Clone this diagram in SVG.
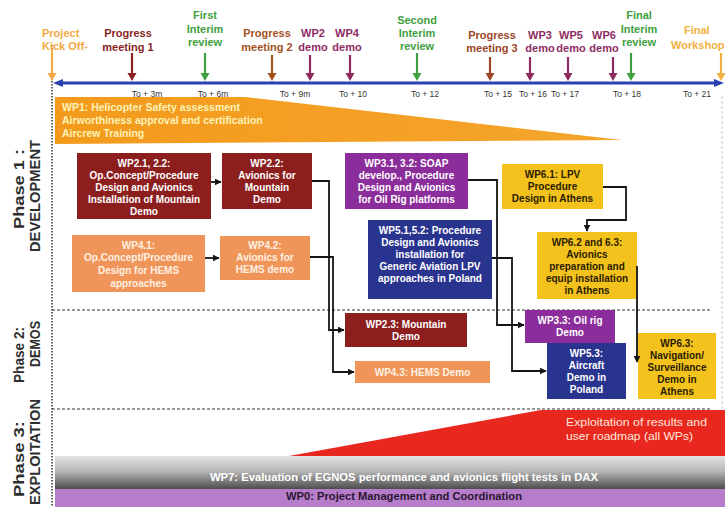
<svg xmlns="http://www.w3.org/2000/svg" width="725" height="507" viewBox="0 0 725 507">
  <defs>
    <style>
      text { font-family: "Liberation Sans", Arial, sans-serif; }
      .ms { font-size: 11px; font-weight: bold; text-anchor: middle; }
      .tick { font-size: 8.5px; fill: #333; text-anchor: middle; }
      .phase { font-size: 15px; font-weight: bold; fill: #2e2e2e; text-anchor: middle; }
      .box { stroke: none; }
      .bt { font-size: 10px; font-weight: bold; text-anchor: middle; fill: #ffffff; }
      .bt-dark { font-size: 10px; font-weight: bold; text-anchor: middle; fill: #2a1c00; }
      .bt-light { font-size: 10px; font-weight: bold; text-anchor: middle; fill: #fff1e2; }
      .red { fill: #8c1e1e; }
      .org { fill: #f0955a; }
      .pur { fill: #8b2d9b; }
      .blu { fill: #29348f; }
      .yel { fill: #f4c21c; }
      .conn { fill: none; stroke: #151515; stroke-width: 1.8; marker-end: url(#ah); }
      .sep { stroke: #333; stroke-width: 1.2; stroke-dasharray: 3 2; }
    </style>
    <marker id="ah" viewBox="0 0 10 10" refX="9" refY="5" markerWidth="7" markerHeight="7" markerUnits="userSpaceOnUse" orient="auto">
      <path d="M0,0 L10,5 L0,10 z" fill="#151515"/>
    </marker>
    <linearGradient id="wp1g" x1="0" y1="0" x2="1" y2="0">
      <stop offset="0" stop-color="#f39a1c"/>
      <stop offset="1" stop-color="#f5a52c"/>
    </linearGradient>
    <linearGradient id="wp7g" x1="0" y1="0" x2="0" y2="1">
      <stop offset="0" stop-color="#e2e2e2"/>
      <stop offset="0.45" stop-color="#b8b8b8"/>
      <stop offset="1" stop-color="#4d4d4d"/>
    </linearGradient>
  </defs>

  <rect width="725" height="507" fill="#ffffff"/>

  <!-- frame: dotted left border, phase separators, faint right border -->
  <g id="frame">
    <line x1="52" y1="45" x2="52" y2="507" stroke="#222" stroke-width="1.4" stroke-dasharray="1.5 1.5"/>
    <line x1="722" y1="96" x2="722" y2="409" stroke="#c8c8c8" stroke-width="1" stroke-dasharray="3 2"/>
    <line class="sep" x1="52" y1="310" x2="712" y2="310"/>
    <line class="sep" x1="52" y1="409" x2="712" y2="409"/>
  </g>

  <!-- timeline -->
  <g id="timeline">
    <line x1="60" y1="83" x2="716" y2="83" stroke="#2b40b0" stroke-width="3"/>
    <path d="M53,83 L63,79 L63,87 z" fill="#2b40b0"/>
    <path d="M724,83 L714,79 L714,87 z" fill="#2b40b0"/>
    <g class="tick-labels">
      <text class="tick" x="147" y="97">To + 3m</text>
      <text class="tick" x="213" y="97">To + 6m</text>
      <text class="tick" x="295" y="97">To + 9m</text>
      <text class="tick" x="353" y="97">To + 10</text>
      <text class="tick" x="425" y="97">To + 12</text>
      <text class="tick" x="498" y="97">To + 15</text>
      <text class="tick" x="533" y="97">To + 16</text>
      <text class="tick" x="565" y="97">To + 17</text>
      <text class="tick" x="627" y="97">To + 18</text>
      <text class="tick" x="697" y="97">To + 21</text>
    </g>
  </g>

  <!-- milestones -->
  <g id="ms-kickoff">
    <text x="42" y="37" font-size="11" font-weight="bold" fill="#f2a844">Project</text>
    <text x="42" y="50" font-size="11" font-weight="bold" fill="#f2a844">Kick Off-</text>
    <line x1="52" y1="50" x2="52" y2="74" stroke="#f2a844" stroke-width="2.2"/>
    <path d="M47.5,73 L56.5,73 L52,81 z" fill="#f2a844"/>
  </g>
  <g id="ms-pm1" fill="#8b1f24">
    <text class="ms" x="128" y="37">Progress</text>
    <text class="ms" x="128" y="51">meeting 1</text>
    <line x1="132" y1="53" x2="132" y2="74" stroke="#8b1f24" stroke-width="2.2"/>
    <path d="M127.5,73 L136.5,73 L132,81 z"/>
  </g>
  <g id="ms-ir1" fill="#3f9f3f">
    <text class="ms" x="205" y="19">First</text>
    <text class="ms" x="205" y="33">Interim</text>
    <text class="ms" x="205" y="46">review</text>
    <line x1="205" y1="53" x2="205" y2="74" stroke="#3f9f3f" stroke-width="2.2"/>
    <path d="M200.5,73 L209.5,73 L205,81 z"/>
  </g>
  <g id="ms-pm2" fill="#a4521e">
    <text class="ms" x="267" y="37">Progress</text>
    <text class="ms" x="267" y="51">meeting 2</text>
    <line x1="272" y1="55" x2="272" y2="74" stroke="#a4521e" stroke-width="2.2"/>
    <path d="M267.5,73 L276.5,73 L272,81 z"/>
  </g>
  <g id="ms-wp2" fill="#8e2b63">
    <text class="ms" x="313" y="37">WP2</text>
    <text class="ms" x="313" y="51">demo</text>
    <line x1="310" y1="55" x2="310" y2="74" stroke="#8e2b63" stroke-width="2.2"/>
    <path d="M305.5,73 L314.5,73 L310,81 z"/>
  </g>
  <g id="ms-wp4" fill="#8e2b63">
    <text class="ms" x="347" y="37">WP4</text>
    <text class="ms" x="347" y="51">demo</text>
    <line x1="350" y1="55" x2="350" y2="74" stroke="#8e2b63" stroke-width="2.2"/>
    <path d="M345.5,73 L354.5,73 L350,81 z"/>
  </g>
  <g id="ms-ir2" fill="#3f9f3f">
    <text class="ms" x="417" y="24">Second</text>
    <text class="ms" x="417" y="37">Interim</text>
    <text class="ms" x="417" y="50">review</text>
    <line x1="417" y1="53" x2="417" y2="74" stroke="#3f9f3f" stroke-width="2.2"/>
    <path d="M412.5,73 L421.5,73 L417,81 z"/>
  </g>
  <g id="ms-pm3" fill="#9b4526">
    <text class="ms" x="492" y="39">Progress</text>
    <text class="ms" x="492" y="52">meeting 3</text>
    <line x1="490" y1="57" x2="490" y2="74" stroke="#9b4526" stroke-width="2.2"/>
    <path d="M485.5,73 L494.5,73 L490,81 z"/>
  </g>
  <g id="ms-wp3" fill="#8e2b63">
    <text class="ms" x="540" y="39">WP3</text>
    <text class="ms" x="540" y="52">demo</text>
    <line x1="530" y1="57" x2="530" y2="74" stroke="#8e2b63" stroke-width="2.2"/>
    <path d="M525.5,73 L534.5,73 L530,81 z"/>
  </g>
  <g id="ms-wp5" fill="#8e2b63">
    <text class="ms" x="571" y="39">WP5</text>
    <text class="ms" x="571" y="52">demo</text>
    <line x1="568" y1="57" x2="568" y2="74" stroke="#8e2b63" stroke-width="2.2"/>
    <path d="M563.5,73 L572.5,73 L568,81 z"/>
  </g>
  <g id="ms-wp6" fill="#8e2b63">
    <text class="ms" x="604" y="39">WP6</text>
    <text class="ms" x="604" y="52">demo</text>
    <line x1="613" y1="57" x2="613" y2="74" stroke="#8e2b63" stroke-width="2.2"/>
    <path d="M608.5,73 L617.5,73 L613,81 z"/>
  </g>
  <g id="ms-irf" fill="#3f9f3f">
    <text class="ms" x="639" y="19">Final</text>
    <text class="ms" x="639" y="33">Interim</text>
    <text class="ms" x="639" y="46">review</text>
    <line x1="631" y1="53" x2="631" y2="74" stroke="#3f9f3f" stroke-width="2.2"/>
    <path d="M626.5,73 L635.5,73 L631,81 z"/>
  </g>
  <g id="ms-workshop" fill="#f2b040">
    <text x="684" y="34" font-size="11" font-weight="bold">Final</text>
    <text x="671" y="49" font-size="11" font-weight="bold">Workshop</text>
    <line x1="721" y1="53" x2="721" y2="74" stroke="#f2b040" stroke-width="2.2"/>
    <path d="M716.5,73 L725.5,73 L721,81 z"/>
  </g>

  <!-- phase labels -->
  <g id="phase-labels">
    <text class="phase" transform="translate(24,189) rotate(-90)" textLength="80" lengthAdjust="spacingAndGlyphs">Phase 1 :</text>
    <text class="phase" transform="translate(40,196) rotate(-90)" textLength="112" lengthAdjust="spacingAndGlyphs">DEVELOPMENT</text>
    <text class="phase" transform="translate(24,355) rotate(-90)" textLength="56" lengthAdjust="spacingAndGlyphs">Phase 2:</text>
    <text class="phase" transform="translate(40,344) rotate(-90)" textLength="46" lengthAdjust="spacingAndGlyphs">DEMOS</text>
    <text class="phase" transform="translate(24,459) rotate(-90)" textLength="76" lengthAdjust="spacingAndGlyphs">Phase 3:</text>
    <text class="phase" transform="translate(40,452) rotate(-90)" textLength="106" lengthAdjust="spacingAndGlyphs">EXPLOITATION</text>
  </g>

  <!-- WP1 band -->
  <g id="wp1">
    <polygon points="55,97 245,97 622,140 55,144" fill="url(#wp1g)"/>
    <text x="62" y="111" font-size="10.5" font-weight="bold" fill="#fff3b8">WP1: Helicopter Safety assessment</text>
    <text x="62" y="124" font-size="10.5" font-weight="bold" fill="#fff3b8">Airworthiness approval and certification</text>
    <text x="62" y="137" font-size="10.5" font-weight="bold" fill="#fff3b8">Aircrew Training</text>
  </g>

  <!-- work package boxes -->
  <g id="wp21">
    <rect class="box red" x="77" y="153" width="134" height="66"/>
    <text class="bt" x="144" y="167">WP2.1, 2.2:</text>
    <text class="bt" x="144" y="179">Op.Concept/Procedure</text>
    <text class="bt" x="144" y="191">Design and Avionics</text>
    <text class="bt" x="144" y="203">Installation of Mountain</text>
    <text class="bt" x="144" y="215">Demo</text>
  </g>
  <g id="wp22">
    <rect class="box red" x="222" y="153" width="90" height="56"/>
    <text class="bt" x="267" y="167">WP2.2:</text>
    <text class="bt" x="267" y="179">Avionics for</text>
    <text class="bt" x="267" y="191">Mountain</text>
    <text class="bt" x="267" y="203">Demo</text>
  </g>
  <g id="wp41">
    <rect class="box org" x="72" y="235" width="133" height="57"/>
    <text class="bt-light" x="138.5" y="249">WP4.1:</text>
    <text class="bt-light" x="138.5" y="261">Op.Concept/Procedure</text>
    <text class="bt-light" x="138.5" y="274">Design for HEMS</text>
    <text class="bt-light" x="138.5" y="287">approaches</text>
  </g>
  <g id="wp42">
    <rect class="box org" x="220" y="236" width="90" height="44"/>
    <text class="bt-light" x="265" y="249">WP4.2:</text>
    <text class="bt-light" x="265" y="261">Avionics for</text>
    <text class="bt-light" x="265" y="273">HEMS demo</text>
  </g>
  <g id="wp31">
    <rect class="box pur" x="345" y="153" width="123" height="56"/>
    <text class="bt" x="406.5" y="167">WP3.1, 3.2: SOAP</text>
    <text class="bt" x="406.5" y="179">develop., Procedure</text>
    <text class="bt" x="406.5" y="191">Design and Avionics</text>
    <text class="bt" x="406.5" y="203">for Oil Rig platforms</text>
  </g>
  <g id="wp51">
    <rect class="box blu" x="368" y="220" width="124" height="79"/>
    <text class="bt" x="430" y="234">WP5.1,5.2: Procedure</text>
    <text class="bt" x="430" y="246">Design and Avionics</text>
    <text class="bt" x="430" y="258">installation for</text>
    <text class="bt" x="430" y="270">Generic Aviation LPV</text>
    <text class="bt" x="430" y="282">approaches in Poland</text>
  </g>
  <g id="wp61">
    <rect class="box yel" x="502" y="164" width="101" height="45"/>
    <text class="bt-dark" x="552.5" y="178">WP6.1: LPV</text>
    <text class="bt-dark" x="552.5" y="190">Procedure</text>
    <text class="bt-dark" x="552.5" y="202">Design in Athens</text>
  </g>
  <g id="wp62">
    <rect class="box yel" x="537" y="232" width="100" height="67"/>
    <text class="bt-dark" x="587" y="246">WP6.2 and 6.3:</text>
    <text class="bt-dark" x="587" y="258">Avionics</text>
    <text class="bt-dark" x="587" y="270">preparation and</text>
    <text class="bt-dark" x="587" y="282">equip installation</text>
    <text class="bt-dark" x="587" y="294">in Athens</text>
  </g>
  <g id="wp23">
    <rect class="box red" x="345" y="313" width="122" height="34"/>
    <text class="bt" x="406" y="328">WP2.3: Mountain</text>
    <text class="bt" x="406" y="340">Demo</text>
  </g>
  <g id="wp43">
    <rect class="box org" x="355" y="361" width="135" height="22"/>
    <text class="bt-light" x="422.5" y="376">WP4.3: HEMS Demo</text>
  </g>
  <g id="wp33">
    <rect class="box pur" x="525" y="310" width="90" height="33"/>
    <text class="bt" x="570" y="324">WP3.3: Oil rig</text>
    <text class="bt" x="570" y="336">Demo</text>
  </g>
  <g id="wp53">
    <rect class="box blu" x="547" y="343" width="79" height="56"/>
    <text class="bt" x="586.5" y="357">WP5.3:</text>
    <text class="bt" x="586.5" y="369">Aircraft</text>
    <text class="bt" x="586.5" y="381">Demo in</text>
    <text class="bt" x="586.5" y="393">Poland</text>
  </g>
  <g id="wp63">
    <rect class="box yel" x="638" y="333" width="78" height="66"/>
    <text class="bt-dark" x="677" y="347">WP6.3:</text>
    <text class="bt-dark" x="677" y="359">Navigation/</text>
    <text class="bt-dark" x="677" y="371">Surveillance</text>
    <text class="bt-dark" x="677" y="383">Demo in</text>
    <text class="bt-dark" x="677" y="395">Athens</text>
  </g>

  <!-- connectors -->
  <g id="connectors">
    <path class="conn" d="M211,182 H221"/>
    <path class="conn" d="M205,258 H219"/>
    <path class="conn" d="M312,181 H329 V330 H344"/>
    <path class="conn" d="M310,257 H333 V372 H354"/>
    <path class="conn" d="M468,180 H497 V325 H524"/>
    <path class="conn" d="M492,258 H512 V371 H546"/>
    <path class="conn" d="M603,187 H626 V220 H587 V231"/>
    <path class="conn" d="M637,266 V362"/>
  </g>

  <!-- exploitation wedge -->
  <g id="exploitation">
    <polygon points="289,456 541,410 725,410 725,456" fill="#e8281e"/>
    <text x="566" y="426" font-size="11" fill="#ffe6dc" textLength="141" lengthAdjust="spacingAndGlyphs">Exploitation of results and</text>
    <text x="566" y="440" font-size="11" fill="#ffe6dc" textLength="127" lengthAdjust="spacingAndGlyphs">user roadmap (all WPs)</text>
  </g>

  <!-- WP7 band -->
  <g id="wp7">
    <rect x="55" y="456" width="670" height="33" fill="url(#wp7g)"/>
    <text x="404" y="481" font-size="11" font-weight="bold" fill="#ffffff" text-anchor="middle" textLength="388" lengthAdjust="spacingAndGlyphs">WP7: Evaluation of EGNOS performance and avionics flight tests in DAX</text>
  </g>

  <!-- WP0 band -->
  <g id="wp0">
    <rect x="55" y="489" width="670" height="18" fill="#b57dca"/>
    <text x="404" y="500" font-size="10.5" font-weight="bold" fill="#2a1630" text-anchor="middle" textLength="236" lengthAdjust="spacingAndGlyphs">WP0: Project Management and Coordination</text>
  </g>
</svg>
